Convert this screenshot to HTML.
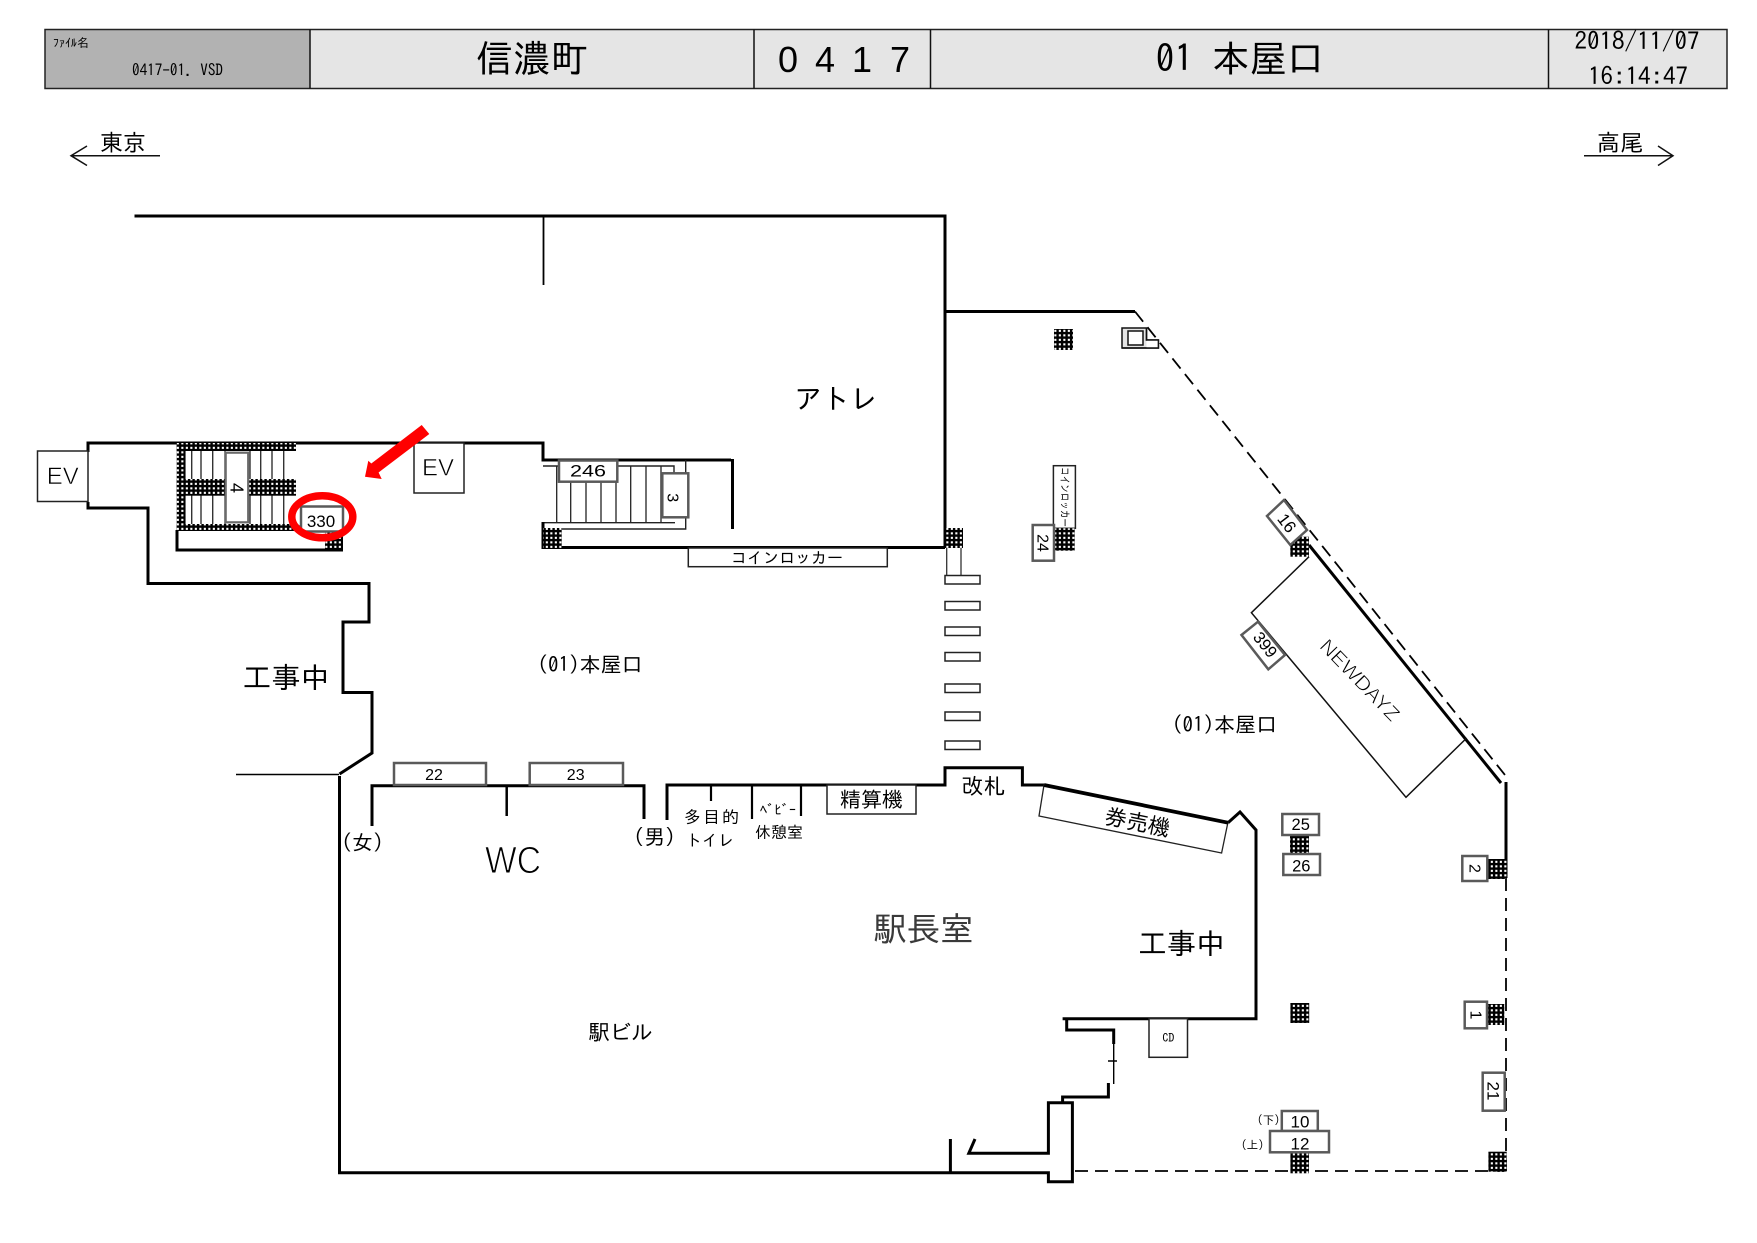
<!DOCTYPE html>
<html lang="ja">
<head>
<meta charset="utf-8">
<title>信濃町 0417 01 本屋口</title>
<style>
html,body{margin:0;padding:0;background:#fff;width:1757px;height:1243px;overflow:hidden}
svg{display:block}
text{font-family:"IPAGothic","Noto Sans CJK JP",sans-serif;fill:#000}
.a{font-family:"Liberation Sans","Noto Sans CJK JP",sans-serif}
.m{text-anchor:middle}
.w{fill:none;stroke:#000;stroke-width:3;stroke-linejoin:miter}
.n{fill:#fff;stroke:#5a5a5a;stroke-width:2.5}
.b{fill:#fff;stroke:#222;stroke-width:1.5}
.d{fill:none;stroke:#000;stroke-width:1.8;stroke-dasharray:13 7}
.thin{stroke:#fff;stroke-width:.6}
</style>
</head>
<body>
<svg width="1757" height="1243" viewBox="0 0 1757 1243" xmlns="http://www.w3.org/2000/svg">
<defs>
<pattern id="h" width="4.5" height="4.5" patternUnits="userSpaceOnUse">
<rect width="4.5" height="4.5" fill="#000"/>
<rect x="1.3" y="1.3" width="2.1" height="2.1" fill="#fff"/>
</pattern>
</defs>

<!-- header -->
<rect x="45" y="29.5" width="265" height="59" fill="#b2b2b2"/>
<rect x="310" y="29.5" width="1417" height="59" fill="#e5e5e5"/>
<rect x="45" y="29.5" width="1682" height="59" fill="none" stroke="#222" stroke-width="1.5"/>
<path d="M310 29.5V88.5M754 29.5V88.5M930.5 29.5V88.5M1548.5 29.5V88.5" stroke="#111" stroke-width="1.5" fill="none"/>
<text x="53" y="47" font-size="12">ﾌｧｲﾙ名</text>
<text x="132" y="76" font-size="16" textLength="91" lengthAdjust="spacingAndGlyphs">0417-01. VSD</text>
<text x="532" y="72" font-size="37.5" class="m">信濃町</text>
<text x="788" y="72" font-size="36" class="a m">0</text>
<text x="825" y="72" font-size="36" class="a m">4</text>
<text x="862" y="72" font-size="36" class="a m">1</text>
<text x="900" y="72" font-size="36" class="a m">7</text>
<text x="1240" y="72" font-size="37.5" class="m">01 本屋口</text>
<text x="1637" y="50" font-size="25" class="m">2018/11/07</text>
<text x="1638" y="85" font-size="25" class="m">16:14:47</text>

<!-- direction arrows -->
<text x="123" y="151" font-size="23" class="m">東京</text>
<path d="M160 155.7H71M87 146L71 155.7L87 165.5" fill="none" stroke="#111" stroke-width="1.5"/>
<text x="1620" y="151" font-size="23" class="m">高尾</text>
<path d="M1584 155.7H1673M1658 146L1673 155.7L1658 165.5" fill="none" stroke="#111" stroke-width="1.5"/>

<!-- upper building -->
<path class="w" d="M134.5 216H945V548"/>
<path d="M543.5 216V285" stroke="#000" stroke-width="1.8" fill="none"/>
<path class="w" d="M945 311.5H1135"/>
<path class="d" d="M1135 311.5L1505 775"/>
<path class="w" d="M1309 545L1501 783"/>
<path class="w" d="M1506 782V878"/>
<path class="d" d="M1506 878V1171"/>
<path class="d" d="M1075 1171H1506"/>

<!-- left upper wall -->
<path class="w" d="M88 452V443H543V460H731"/>
<path class="w" d="M732.5 459V529"/>
<path class="w" d="M88 502V508H148V583.5H369V622H343V692.5H372V753L339.5 774"/>
<path d="M236 774.5H339" stroke="#000" stroke-width="1.5"/>
<path class="w" d="M339.5 776V1172.7H1048.4V1181.7H1072.4V1102.7H1048.4V1153.3H968.8L975 1139"/>
<path class="w" d="M950.4 1139V1172.7"/>
<path class="w" d="M1062.6 1102V1097H1108.4V1083"/>
<path d="M1113.7 1044V1084M1108 1061H1117" stroke="#000" stroke-width="1.4" fill="none"/>
<path class="w" d="M1113.7 1044V1030H1066.7V1018.7M1062.6 1018.7H1256V830L1240 812L1228 822.7"/>

<!-- EV boxes -->
<rect x="37.5" y="451" width="50.5" height="50.5" class="b"/>
<text x="62.7" y="484" font-size="24" class="a m thin">EV</text>
<rect x="414" y="443" width="50" height="50" class="b"/>
<text x="438" y="475.7" font-size="24" class="a m thin">EV</text>

<!-- left stairs -->
<path d="M185 451V524M191.7 451V524M201 451V524M212.7 451V524M225 451V524M250 451V524M260.7 451V524M272 451V524M283.7 451V524" stroke="#333" stroke-width="1.4" fill="none"/>
<rect x="176.7" y="443" width="8.3" height="88" fill="url(#h)"/>
<rect x="176.7" y="443" width="119.3" height="8" fill="url(#h)"/>
<rect x="176.7" y="479" width="119.3" height="16.7" fill="url(#h)"/>
<rect x="176.7" y="524" width="125" height="7" fill="url(#h)"/>
<rect x="225.7" y="452.7" width="22.5" height="69.6" fill="#fff" stroke="#6a6a6a" stroke-width="2.2"/>
<text transform="translate(236.7 488) rotate(90)" font-size="18" class="a m" y="6">4</text>
<path class="w" d="M177 530V550H343"/>
<rect x="325" y="531.7" width="18" height="18.3" fill="url(#h)"/>
<rect x="301" y="506.5" width="42" height="25" class="n"/>
<text x="321" y="527" font-size="17" class="a m">330</text>
<ellipse cx="322.3" cy="516.8" rx="30.5" ry="21" fill="none" stroke="#f00" stroke-width="7.5"/>
<polygon points="421.7,425 429.3,434 378.6,472.5 381.7,479 365,476.7 368.3,460.7 371.3,463.5" fill="#f00"/>

<!-- right stairs -->
<path d="M556.7 466V522.7M570.7 466V522.7M586 466V522.7M601 466V522.7M616 466V522.7M630.7 466V522.7M646 466V522.7M661 466V522.7" stroke="#222" stroke-width="1.3" fill="none"/>
<path d="M543 466H558M616 466H674V474M543 522.7H675M685.7 460V529H543" stroke="#222" stroke-width="1.4" fill="none"/>
<path class="w" d="M543 522V547.5H945"/>
<rect x="559" y="460.5" width="58.3" height="21.2" class="n"/>
<text x="570" y="476.7" font-size="16.5" class="a" textLength="36" lengthAdjust="spacingAndGlyphs">246</text>
<rect x="662.3" y="473.3" width="26" height="44" class="n"/>
<text transform="translate(673 497.7) rotate(90)" font-size="16" class="a m" y="5.5">3</text>
<rect x="543" y="528" width="18.7" height="20" fill="url(#h)"/>
<rect x="945" y="528" width="18" height="20" fill="url(#h)"/>

<!-- coin locker -->
<rect x="688.3" y="548" width="199" height="18.7" class="b"/>
<text x="787" y="563.5" font-size="16" class="m">コインロッカー</text>

<!-- crosswalk -->
<path d="M946.7 548V576M961 548V576" stroke="#333" stroke-width="1.3" fill="none"/>
<rect x="945" y="575.5" width="35" height="8.5" class="b"/>
<rect x="945" y="601.5" width="35" height="8.5" class="b"/>
<rect x="945" y="627" width="35" height="8.5" class="b"/>
<rect x="945" y="652.5" width="35" height="8.5" class="b"/>
<rect x="945" y="684" width="35" height="8.5" class="b"/>
<rect x="945" y="712" width="35" height="8.5" class="b"/>
<rect x="945" y="741" width="35" height="8.5" class="b"/>

<!-- right side items -->
<rect x="1054" y="329" width="19" height="21" fill="url(#h)"/>
<path d="M1122 328H1146.5V340H1158.4V348H1122Z" fill="#e4e4e4" stroke="#111" stroke-width="1.5"/>
<path d="M1146.5 340H1158.4V348H1146.5Z" fill="#fff"/>
<path d="M1122 348H1158.4V340H1146.5V328" fill="none" stroke="#111" stroke-width="1.5"/>
<rect x="1128" y="331" width="15" height="14" fill="#fff" stroke="#111" stroke-width="1.5"/>

<rect x="1053.4" y="465.7" width="22" height="62.6" class="b"/>
<text transform="translate(1061 467) rotate(90)" font-size="11" textLength="60" lengthAdjust="spacingAndGlyphs">コインロッカー</text>
<rect x="1054" y="528.3" width="20.7" height="22.4" fill="url(#h)"/>
<rect x="1032.7" y="525" width="21.3" height="35.7" class="n"/>
<text transform="translate(1043.5 543) rotate(90)" font-size="16" class="a m" y="6">24</text>

<rect x="1290.3" y="536.7" width="18.7" height="20" fill="url(#h)"/>
<polygon points="1284,500 1307,530 1290.3,545 1267,516" class="n"/>
<text transform="translate(1287 523) rotate(52.5)" font-size="17" class="a m" y="6">16</text>

<path d="M1309 556.7L1251.4 612.7L1406 797.3L1466.7 738" fill="none" stroke="#111" stroke-width="1.5"/>
<polygon points="1258,621.7 1285,655 1268.3,669.3 1241.5,635" class="n"/>
<text transform="translate(1265.5 644.5) rotate(52)" font-size="16.5" class="a m" y="6">399</text>
<text transform="translate(1360 680) rotate(46)" font-size="20" class="a m thin" y="7" textLength="105" lengthAdjust="spacingAndGlyphs">NEWDAYZ</text>

<rect x="1290" y="835" width="19" height="19" fill="url(#h)"/>
<rect x="1282.3" y="814" width="36.7" height="21" class="n"/>
<text x="1300.7" y="830" font-size="16.5" class="a m">25</text>
<rect x="1283.3" y="854" width="36.7" height="21" class="n"/>
<text x="1301.3" y="871.5" font-size="16.5" class="a m">26</text>

<rect x="1487.3" y="859" width="19.4" height="20" fill="url(#h)"/>
<rect x="1462.3" y="856" width="25" height="25" class="n"/>
<text transform="translate(1475 868.5) rotate(90)" font-size="16" class="a m" y="5.5">2</text>

<rect x="1290.4" y="1003" width="18.8" height="20" fill="url(#h)"/>
<rect x="1487" y="1004" width="17.3" height="21" fill="url(#h)"/>
<rect x="1464.7" y="1001.7" width="22.3" height="26.6" class="n"/>
<text transform="translate(1476 1015) rotate(90)" font-size="16" class="a m" y="5.5">1</text>
<rect x="1482.7" y="1072.7" width="22" height="38" class="n"/>
<text transform="translate(1493.5 1091) rotate(90)" font-size="17" class="a m" y="6">21</text>

<rect x="1290.4" y="1152.3" width="18.6" height="21" fill="url(#h)"/>
<rect x="1488.4" y="1151.7" width="18.3" height="20" fill="url(#h)"/>
<rect x="1281.8" y="1111" width="36" height="20" class="n"/>
<text x="1300" y="1127.5" font-size="17" class="a m">10</text>
<rect x="1270" y="1131" width="59" height="21.3" class="n"/>
<text x="1300" y="1149.3" font-size="17" class="a m">12</text>
<text x="1257" y="1124" font-size="11.5">(下)</text>
<text x="1241" y="1149" font-size="11.5">(上)</text>

<rect x="1149" y="1018.7" width="38.5" height="38.6" class="b"/>
<text x="1168.4" y="1042" font-size="12" class="m">CD</text>

<!-- wc row -->
<path class="w" d="M372 826V785.7H644V819"/>
<path d="M506.7 785V816" stroke="#000" stroke-width="2.5"/>
<rect x="394" y="763" width="92" height="22" class="n"/>
<text x="434" y="780" font-size="16" class="a m">22</text>
<rect x="529.7" y="763" width="93.3" height="22" class="n"/>
<text x="575.7" y="780" font-size="16" class="a m">23</text>
<text x="362.5" y="850" font-size="21" class="m">(女)</text>
<text x="654.5" y="844.5" font-size="21" class="m">(男)</text>
<text x="485" y="873" font-size="38" class="a" style="stroke:#fff;stroke-width:1" textLength="56" lengthAdjust="spacingAndGlyphs">WC</text>

<path class="w" d="M667 820V785H945V767.7H1022.4V785H1044"/>
<path d="M711 785V801M752 785V819M801 785V816" stroke="#000" stroke-width="2.2" fill="none"/>
<rect x="827" y="785" width="89" height="29" class="b"/>
<text x="871.5" y="807" font-size="21" class="m">精算機</text>
<text x="983.5" y="794" font-size="22" class="m">改札</text>
<polygon points="1044,785 1228,822 1221.6,853 1039,816" fill="#fff" stroke="#222" stroke-width="1.3"/>
<path d="M1044 785L1228 822.7" stroke="#000" stroke-width="3.8" fill="none"/>
<text transform="translate(1136 830) rotate(11.5)" font-size="22" class="m">券売機</text>

<text x="712.5" y="823" font-size="17" class="m" letter-spacing="2">多目的</text>
<text x="710" y="846" font-size="16" class="m">トイレ</text>
<text x="778" y="815" font-size="14.5" class="m">ﾍﾞﾋﾞｰ</text>
<text x="779" y="838" font-size="16" class="m">休憩室</text>

<!-- room labels -->
<text x="836" y="409" font-size="28" class="m">アトレ</text>
<text x="286" y="688" font-size="29" class="m">工事中</text>
<text x="590" y="672" font-size="21" class="m">(01)本屋口</text>
<text x="1224.5" y="732" font-size="21" class="m">(01)本屋口</text>
<text x="923.5" y="941" font-size="33.5" class="m" style="fill:#3a3a3a">駅長室</text>
<text x="1181.5" y="954" font-size="29" class="m">工事中</text>
<text x="620.5" y="1040" font-size="21.5" class="m">駅ビル</text>
</svg>
</body>
</html>
